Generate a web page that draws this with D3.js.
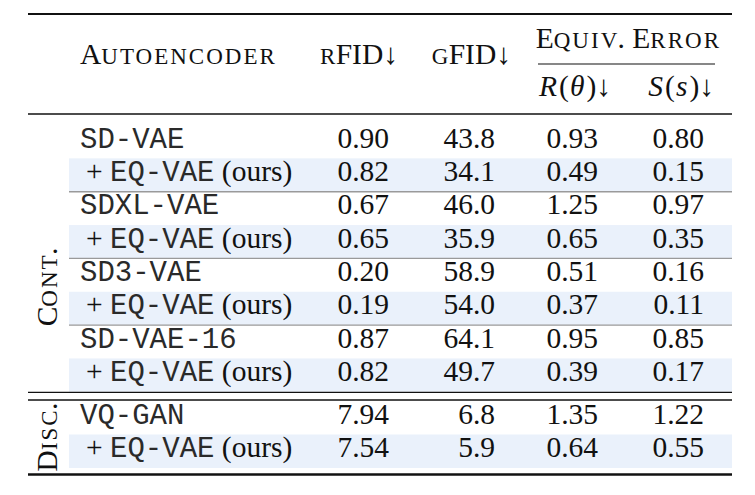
<!DOCTYPE html>
<html><head><meta charset="utf-8">
<script src="https://cdn.jsdelivr.net/npm/d3@7"></script>
<style>
html,body{margin:0;padding:0;background:#fff;}
svg text{fill:#111;}
</style>
</head><body>
<svg id="c" width="755" height="495"></svg>
<script>
// ---- data ----
const models = ["SD-VAE","+EQ","SDXL-VAE","+EQ","SD3-VAE","+EQ","SD-VAE-16","+EQ","VQ-GAN","+EQ"];
const rFID   = ["0.90","0.82","0.67","0.65","0.20","0.19","0.87","0.82","7.94","7.54"];
const gFID   = ["43.8","34.1","46.0","35.9","58.9","54.0","64.1","49.7","6.8","5.9"];
const rotErr = ["0.93","0.49","1.25","0.65","0.51","0.37","0.95","0.39","1.35","0.64"];
const sclErr = ["0.80","0.15","0.97","0.35","0.16","0.11","0.85","0.17","1.22","0.55"];
const groups = [{big:"C",small:"ONT",rest:".",from:0,to:7},{big:"D",small:"ISC",rest:".",from:8,to:9}];
const columns = ["rFID","gFID","R","S"];

const svg = d3.select("#c");
const FS = 29.5, SC = 23;
const serif = "'Liberation Serif','Times New Roman',serif";
const mono = "'Liberation Mono','Courier New',monospace";
const L = 28, R = 732, bandL = 69;

// row scales
const yCont = d3.scaleLinear().domain([0,8]).range([125,391.8]);
const yDisc = d3.scaleLinear().domain([8,10]).range([401,468]);
const rowTop = i => i < 8 ? yCont(i) : yDisc(i);
const rowBot = i => i < 8 ? yCont(i+1) : yDisc(i+1);
// column right edges for numbers
const xCol = d3.scaleOrdinal().domain(columns).range([389,495,598,704]);

const rows = models.map((m,i)=>({m,i,vals:[rFID[i],gFID[i],rotErr[i],sclErr[i]]}));

// highlight bands
svg.selectAll("rect.band").data(rows.filter(d=>d.m==="+EQ")).join("rect")
  .attr("x",bandL).attr("width",R-bandL)
  .attr("y",d=>rowTop(d.i)).attr("height",d=>rowBot(d.i)-rowTop(d.i))
  .attr("fill","#EAF1FB");

// gray separators
svg.selectAll("line.sep").data([2,4,6]).join("line")
  .attr("x1",bandL).attr("x2",R).attr("y1",d=>rowTop(d)).attr("y2",d=>rowTop(d))
  .attr("stroke","#9a9a9a").attr("stroke-width",1.4);

// rules
const rules = [{y:14,w:2.2},{y:114,w:1.4},{y:392.3,w:1.3},{y:400,w:1.3},{y:474.5,w:2.4}];
svg.selectAll("line.rule").data(rules).join("line")
  .attr("x1",L).attr("x2",R).attr("y1",d=>d.y).attr("y2",d=>d.y)
  .attr("stroke","#111").attr("stroke-width",d=>d.w);
svg.append("line").attr("x1",538).attr("x2",715).attr("y1",64).attr("y2",64)
  .attr("stroke","#111").attr("stroke-width",1.1);

// small caps helper: small parts get letter-spacing between letters only
function sc(sel, parts){
  parts.forEach(p=>{
    if(p[1]){
      const s = p[0];
      if(s.length>1) sel.append("tspan").attr("font-size",SC).attr("letter-spacing",2).text(s.slice(0,-1));
      sel.append("tspan").attr("font-size",SC).attr("letter-spacing",0.3).text(s.slice(-1));
    } else {
      sel.append("tspan").attr("font-size",FS).attr("letter-spacing",0).text(p[0]);
    }
  });
  return sel;
}
const hdr = (x,y,anchor)=>svg.append("text").attr("x",x).attr("y",y)
  .attr("text-anchor",anchor).attr("font-family",serif).attr("font-size",FS);

sc(hdr(80,64,"start"),[["A",0],["UTOENCODER",1]]);
sc(hdr(398,64,"end"),[["R",1],["FID↓",0]]);
sc(hdr(511,64,"end"),[["G",1],["FID↓",0]]);
sc(hdr(627.5,48,"middle"),[["E",0],["QUIV",1],[". E",0],["RROR",1]]);
{
  const t = hdr(611,96,"end");
  t.append("tspan").attr("font-style","italic").attr("letter-spacing",2).text("R");
  t.append("tspan").attr("letter-spacing",1).text("(");
  t.append("tspan").attr("font-style","italic").attr("letter-spacing",2).text("θ");
  t.append("tspan").text(")↓");
  const s = hdr(714,96,"end");
  s.append("tspan").attr("font-style","italic").attr("letter-spacing",2).text("S");
  s.append("tspan").attr("letter-spacing",1).text("(");
  s.append("tspan").attr("font-style","italic").attr("letter-spacing",2).text("s");
  s.append("tspan").text(")↓");
}

// row labels
rows.forEach(d=>{
  const base = rowTop(d.i)+22.5;
  if(d.m==="+EQ"){
    const t = svg.append("text").attr("x",86).attr("y",base).attr("font-family",serif).attr("font-size",FS);
    t.append("tspan").text("+ ");
    t.append("tspan").attr("font-family",mono).attr("font-size",FS-0.5).style("fill","#2a2a2a").text("EQ-VAE");
    t.append("tspan").text(" (ours)");
  } else {
    svg.append("text").attr("x",80).attr("y",base).attr("font-family",mono).attr("font-size",FS-0.5)
      .style("fill","#2a2a2a").text(d.m);
  }
  columns.forEach((c,j)=>{
    svg.append("text").attr("x",xCol(c)).attr("y",base).attr("text-anchor","end")
      .attr("font-family",serif).attr("font-size",FS).text(d.vals[j]);
  });
});

// group labels (rotated)
const gc = [287, 437];
groups.forEach((g,k)=>{
  const t = svg.append("text").attr("transform",`translate(57,${gc[k]}) rotate(-90)`)
    .attr("text-anchor","middle").attr("font-family",serif).attr("font-size",FS);
  sc(t,[[g.big,0],[g.small,1],[g.rest,0]]);
});
</script>
</body></html>
